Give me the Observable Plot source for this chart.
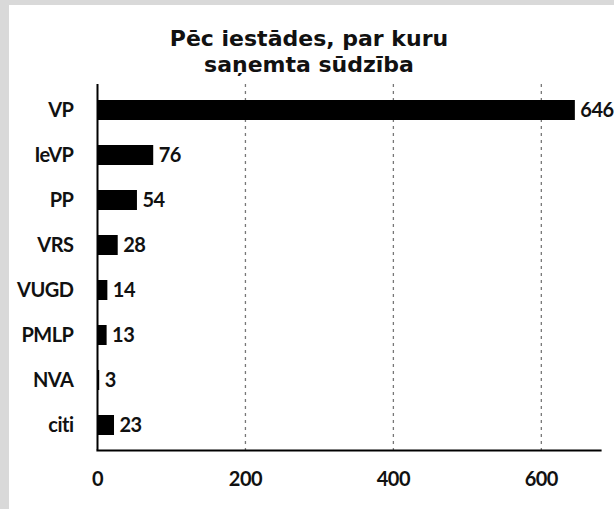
<!DOCTYPE html>
<html>
<head>
<meta charset="utf-8">
<script src="https://cdn.jsdelivr.net/npm/d3@7"></script>
<script src="https://cdn.jsdelivr.net/npm/@observablehq/plot@0.6"></script>
<style>
  html, body { margin: 0; padding: 0; background: #d9d9d9; width: 614px; height: 509px; overflow: hidden; }
  #panel { position: absolute; left: 9px; top: 5px; width: 605px; height: 504px; background: #fff; }
  .tline { position: absolute; left: 0; width: 600px; height: 26px; text-align: center;
           font-family: "DejaVu Sans", sans-serif; font-weight: bold; font-size: 22px; line-height: 26px;
           letter-spacing: 0px; color: #111; white-space: nowrap; }
  #t1 { top: 21px; }
  #t2 { top: 47px; }
  #chart { position: absolute; left: 0; top: 75px; }
</style>
</head>
<body>
<div id="panel">
  <div class="tline" id="t1">Pēc iestādes, par kuru</div>
  <div class="tline" id="t2">saņemta sūdzība</div>
  <div id="chart"></div>
</div>
<script>
const categories = ["VP", "IeVP", "PP", "VRS", "VUGD", "PMLP", "NVA", "citi"];
const values = [646, 76, 54, 28, 14, 13, 3, 23];
const xTicks = [0, 200, 400, 600];
const gridTicks = [200, 400, 600];

const data = categories.map((c, i) => ({category: c, value: values[i]}));

const chart = Plot.plot({
  width: 605,
  height: 420,
  marginTop: 4,
  marginLeft: 88,
  marginRight: 14,
  marginBottom: 50,
  style: {fontFamily: "Lato, sans-serif", fontWeight: "bold", fontSize: "20px", color: "#111", overflow: "visible", letterSpacing: "-0.5px"},
  x: {domain: [0, 680], ticks: xTicks, tickSize: 0, tickPadding: 21, label: null},
  y: {domain: categories, paddingInner: 0.56, paddingOuter: 0.28, tickSize: 0, tickPadding: 24, label: null},
  marks: [
    Plot.gridX(gridTicks, {stroke: "#777", strokeOpacity: 1, strokeWidth: 1.3, strokeDasharray: "3,4"}),
    Plot.barX(data, {x: "value", y: "category", fill: "#000"}),
    Plot.text(data, {x: "value", y: "category", text: d => String(d.value), textAnchor: "start", dx: 5,
      fill: "#111", fontSize: 20, fontWeight: "bold"}),
    Plot.ruleX([0], {stroke: "#000", strokeWidth: 2}),
    Plot.frame({anchor: "bottom", stroke: "#000", strokeWidth: 2.2})
  ]
});
document.getElementById("chart").appendChild(chart);
</script>
</body>
</html>
